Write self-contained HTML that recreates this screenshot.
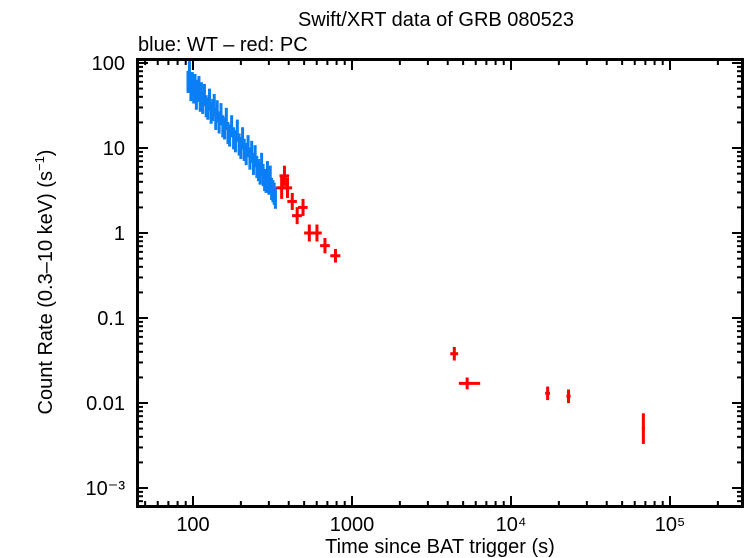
<!DOCTYPE html>
<html><head><meta charset="utf-8"><style>
body{margin:0;background:#fff}
svg{display:block;font-family:"Liberation Sans",sans-serif}
</style></head><body>
<svg id="chart" width="746" height="558" viewBox="0 0 746 558" xmlns="http://www.w3.org/2000/svg">
<text x="436" y="26" font-size="20" text-anchor="middle">Swift/XRT data of GRB 080523</text>
<text x="138" y="51" font-size="20">blue: WT – red: PC</text>
<text transform="translate(52,282) rotate(-90)" font-size="20" text-anchor="middle">Count Rate (0.3–10 keV) (s<tspan font-size="13" dy="-8">−1</tspan><tspan dy="8">)</tspan></text>
<text x="440" y="553" font-size="20" text-anchor="middle">Time since BAT trigger (s)</text>
<g id="ticks"></g>
<g id="marks"></g>
<rect x="137.5" y="59.5" width="605" height="447" fill="none" stroke="#000" stroke-width="3"/>
</svg>
<script>
const wtTimes=[93,95,97,99,101,103,105,107,109,111,113,115,118,121,124,127,130,133,136,139,142,146,150,154,158,162,166,170,175,180,185,190,195,200,205,210,216,222,228,234,240,246,252,258,264,270,276,282,288,294,300,306,312,318,324,330];
const wtRates=[60,78,48,58,45,55,38,47,52,36,44,34,42,31,29,37,26,28,32,22,27,20,25,18,17,22,15,14,18,13,12,16,11,10,13,9.5,8.5,10.5,7.5,9,6.5,8,6,5.5,5,6.5,4.8,4.2,4,5.2,3.8,4.6,3.3,3.1,2.9,2.6];
const pcTimes=[361,376,393,421,452,492,539,602,676,787,4400,5300,17000,23000,68000];
const pcLo=[335,350,366,392,420,458,500,560,630,730,4150,4700,16400,22300,66500];
const pcHi=[388,402,420,450,484,526,578,645,725,845,4650,6400,17600,23700,69500];
const pcRates=[3.4,4.7,3.4,2.35,1.6,2.0,1.0,1.0,0.71,0.54,0.038,0.017,0.013,0.012,0.005];
const pcErr=[0.13,0.12,0.12,0.1,0.1,0.1,0.1,0.1,0.09,0.08,0.08,0.07,0.08,0.08,0.18];
const xTickLabels=["100","1000","10⁴","10⁵"];
const yTickLabels=["100","10","1","0.1","0.01","10⁻³"];
const NS="http://www.w3.org/2000/svg";
const X=t=>193+159*(Math.log10(t)-2);
const Y=v=>63-85*(Math.log10(v)-2);
function mk(tag,attrs,parent){const e=document.createElementNS(NS,tag);for(const k in attrs)e.setAttribute(k,attrs[k]);parent.appendChild(e);return e;}
const ticks=document.getElementById('ticks'),marks=document.getElementById('marks');
for(let d=1;d<=5;d++){for(let m=1;m<10;m++){const t=m*Math.pow(10,d);const x=X(t);if(x<139||x>741)continue;const L=m===1?10:5;
const a=mk('line',{x1:x,x2:x,y1:506,y2:506-L,stroke:'#000','stroke-width':2},ticks);

const b=mk('line',{x1:x,x2:x,y1:60,y2:60+L,stroke:'#000','stroke-width':2},ticks);
}}
xTickLabels.forEach((s,i)=>{const el=mk('text',{x:X(Math.pow(10,i+2)),y:531,'font-size':20,'text-anchor':'middle'},ticks);el.textContent=s;
});
for(let d=-4;d<=2;d++){for(let m=1;m<10;m++){const v=m*Math.pow(10,d);const y=Y(v);if(y<61||y>505)continue;const L=m===1?10:5;
const a=mk('line',{x1:138,x2:138+L,y1:y,y2:y,stroke:'#000','stroke-width':2},ticks);

const b=mk('line',{x1:742,x2:742-L,y1:y,y2:y,stroke:'#000','stroke-width':2},ticks);
}}
yTickLabels.forEach((s,i)=>{const el=mk('text',{x:125,y:Y(Math.pow(10,2-i))+7,'font-size':20,'text-anchor':'end'},ticks);el.textContent=s;
});
wtTimes.forEach((t,i)=>{const v=wtRates[i];const x=X(t),y=Y(v);const dt=(i<wtTimes.length-1?wtTimes[i+1]-t:6)/2;
const g=mk('g',{stroke:'#0a7ff5','stroke-width':3},marks);

mk('line',{x1:x,x2:x,y1:Y(v*1.35),y2:Y(v/1.35)},g);
mk('line',{x1:X(t-dt),x2:X(t+dt),y1:y,y2:y},g);});
pcTimes.forEach((t,i)=>{const v=pcRates[i];const x=X(t),y=Y(v);const e=pcErr[i];
const g=mk('g',{stroke:'#ff0000','stroke-width':3},marks);

mk('line',{x1:x,x2:x,y1:Y(v*Math.pow(10,e)),y2:Y(v/Math.pow(10,e))},g);
mk('line',{x1:X(pcLo[i]),x2:X(pcHi[i]),y1:y,y2:y},g);});
</script>
</body></html>
